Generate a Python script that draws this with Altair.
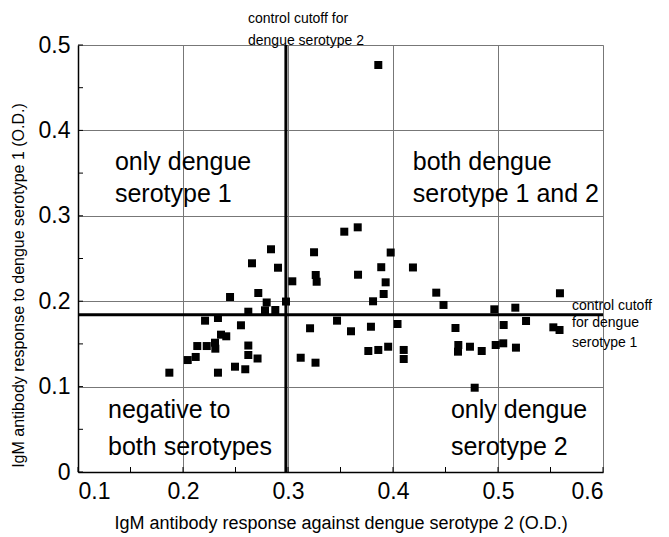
import altair as alt
import pandas as pd

# IgM response against serotype 2 (x) and serotype 1 (y), O.D.
x_vals = [0.2838, 0.2657, 0.2905, 0.3041, 0.2448, 0.2717, 0.2797, 0.2981, 0.2622, 0.2781,
          0.2879, 0.2210, 0.2333, 0.2552, 0.3210, 0.2362, 0.2412, 0.2136, 0.2226, 0.2305,
          0.2308, 0.2622, 0.2622, 0.2710, 0.2121, 0.2045, 0.3121, 0.2495, 0.2593, 0.1870,
          0.2333, 0.3248, 0.3978, 0.3888, 0.4190, 0.3264, 0.3273, 0.3667, 0.3930, 0.3911,
          0.3810, 0.4412, 0.4481, 0.3467, 0.3600, 0.3790, 0.4043, 0.4595, 0.3765, 0.3860,
          0.3954, 0.4102, 0.4102, 0.3262, 0.5590, 0.4965, 0.5165, 0.5054, 0.5267, 0.5527,
          0.5586, 0.4622, 0.4619, 0.4733, 0.4845, 0.4978, 0.5050, 0.5171, 0.4778, 0.3860,
          0.3536, 0.3664]
y_vals = [0.2608, 0.2444, 0.2392, 0.2233, 0.2049, 0.2096, 0.1985, 0.1996, 0.1877, 0.1893,
          0.1897, 0.1772, 0.1803, 0.1718, 0.1683, 0.1608, 0.1589, 0.1475, 0.1475, 0.1514,
          0.1444, 0.1481, 0.1370, 0.1329, 0.1347, 0.1311, 0.1338, 0.1233, 0.1203, 0.1163,
          0.1163, 0.2573, 0.2570, 0.2398, 0.2395, 0.2307, 0.2228, 0.2310, 0.2221, 0.2084,
          0.1999, 0.2100, 0.1956, 0.1772, 0.1648, 0.1701, 0.1733, 0.1686, 0.1417, 0.1429,
          0.1467, 0.1429, 0.1323, 0.1280, 0.2093, 0.1905, 0.1924, 0.1721, 0.1768, 0.1694,
          0.1663, 0.1487, 0.1409, 0.1467, 0.1417, 0.1487, 0.1507, 0.1456, 0.0987, 0.4766,
          0.2814, 0.2865]

cutoff_x = 0.298   # control cutoff for dengue serotype 2
cutoff_y = 0.184   # control cutoff for dengue serotype 1

x_ticks = [0.1, 0.2, 0.3, 0.4, 0.5, 0.6]
y_ticks = [0.0, 0.1, 0.2, 0.3, 0.4, 0.5]
x_minor = [0.1, 0.15, 0.2, 0.25, 0.3, 0.35, 0.4, 0.45, 0.5, 0.55, 0.6]
y_minor = [0.0, 0.05, 0.1, 0.15, 0.2, 0.25, 0.3, 0.35, 0.4, 0.45, 0.5]

quad_text = ["only dengue", "serotype 1", "both dengue", "serotype 1 and 2",
             "negative to", "both serotypes", "only dengue", "serotype 2"]
quad_x = [0.1352, 0.1352, 0.4188, 0.4188, 0.1286, 0.1286, 0.4552, 0.4552]
quad_y = [0.363, 0.325, 0.363, 0.325, 0.0726, 0.0293, 0.0726, 0.0293]

note_text = ["control cutoff for", "dengue serotype 2",
             "control cutoff", "for dengue", "serotype 1"]
note_x = [0.2619, 0.2619, 0.5705, 0.5705, 0.5705]
note_y = [0.530, 0.505, 0.1944, 0.1745, 0.151]

FONT = "Liberation Sans"
W, H = 525, 427

pts = pd.DataFrame({"x": x_vals, "y": y_vals})
quad = pd.DataFrame({"t": quad_text, "x": quad_x, "y": quad_y})
notes = pd.DataFrame({"t": note_text, "x": note_x, "y": note_y})

xs = alt.Scale(domain=[0.1, 0.6], nice=False, zero=False)
ys = alt.Scale(domain=[0.0, 0.5], nice=False, zero=False)

xaxis = alt.Axis(values=x_ticks, format=".1f", grid=True, gridColor="#777777", gridWidth=1,
                 tickSize=0, labelFontSize=23, labelFont=FONT, labelColor="black",
                 labelPadding=8, domainColor="black", domainWidth=1.5,
                 title="IgM antibody response against dengue serotype 2 (O.D.)",
                 titleFont=FONT, titleFontSize=18, titleFontWeight="normal",
                 titleColor="black", titleY=51, titleBaseline="middle")
yaxis = alt.Axis(values=y_ticks, labelExpr="datum.value == 0 ? '0' : format(datum.value, '.1f')",
                 grid=True, gridColor="#777777", gridWidth=1,
                 tickSize=0, labelFontSize=23, labelFont=FONT, labelColor="black",
                 labelPadding=8, domainColor="black", domainWidth=1.5,
                 title="IgM antibody response to dengue serotype 1 (O.D.)",
                 titleFont=FONT, titleFontSize=16, titleFontWeight="normal",
                 titleColor="black", titleX=-60, titleY=240, titleAlign="center",
                 titleBaseline="middle", titleAngle=-90)

points = alt.Chart(pts).mark_square(size=64, color="black", opacity=1).encode(
    x=alt.X("x:Q", scale=xs, axis=xaxis),
    y=alt.Y("y:Q", scale=ys, axis=yaxis),
)

vline = alt.Chart(pd.DataFrame({"x": [cutoff_x]})).mark_rule(color="black", strokeWidth=3).encode(
    x=alt.X("x:Q", scale=xs), y=alt.value(0), y2=alt.value(H))
hline = alt.Chart(pd.DataFrame({"y": [cutoff_y]})).mark_rule(color="black", strokeWidth=3).encode(
    y=alt.Y("y:Q", scale=ys), x=alt.value(0), x2=alt.value(W))

xmin = alt.Chart(pd.DataFrame({"x": x_minor})).mark_rule(color="black", strokeWidth=1).encode(
    x=alt.X("x:Q", scale=xs), y=alt.value(H), y2=alt.value(H - 5))
ymin = alt.Chart(pd.DataFrame({"y": y_minor})).mark_rule(color="black", strokeWidth=1).encode(
    y=alt.Y("y:Q", scale=ys), x=alt.value(0), x2=alt.value(5))

quad_layer = alt.Chart(quad).mark_text(font=FONT, fontSize=25, align="left", baseline="middle",
                                       color="black").encode(
    x=alt.X("x:Q", scale=xs), y=alt.Y("y:Q", scale=ys), text="t:N")
note_layer = alt.Chart(notes).mark_text(font=FONT, fontSize=14, align="left", baseline="middle",
                                        color="black").encode(
    x=alt.X("x:Q", scale=xs), y=alt.Y("y:Q", scale=ys), text="t:N")

chart = alt.layer(vline, hline, xmin, ymin, points, quad_layer, note_layer).properties(
    width=W, height=H,
    padding={"left": 70, "top": 37, "right": 50, "bottom": 62},
    autosize=alt.AutoSizeParams(type="none"),
).configure_view(stroke="black", strokeWidth=1).configure(background="white")

chart.save("out.html", embed_options={"renderer": "svg", "actions": False})
